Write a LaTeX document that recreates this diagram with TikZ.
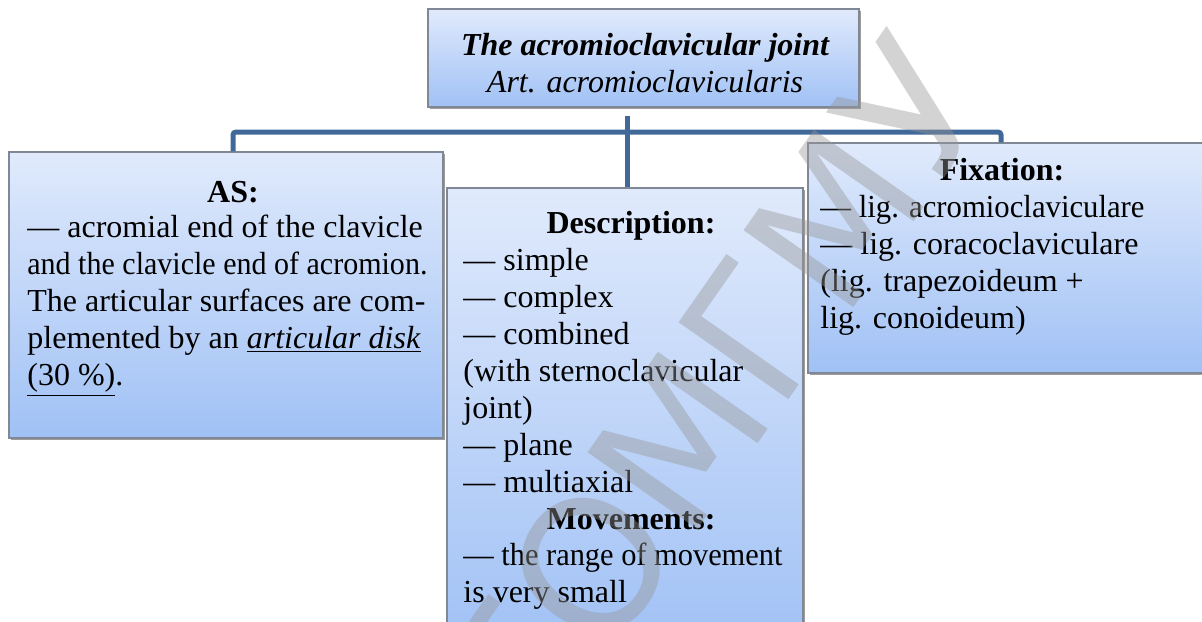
\documentclass[tikz,border=0pt]{standalone}
\usepackage{fontspec}
\usepackage{graphicx}
\setmainfont{Liberation Serif}
\newfontfamily\wmfont{DejaVu Sans}
\usetikzlibrary{shadows,fit,calc}
\definecolor{connblue}{RGB}{64,104,152}
\definecolor{boxtop}{RGB}{224,234,252}
\definecolor{boxbot}{RGB}{160,193,245}
\definecolor{boxline}{RGB}{128,136,150}
\definecolor{wmgray}{RGB}{150,150,150}
\begin{document}
\begin{tikzpicture}[x=0.5pt,y=-0.5pt,
  card/.style={draw=boxline, line width=0.6pt, top color=boxtop, bottom color=boxbot,
    inner sep=0pt,
    drop shadow={shadow xshift=1.2pt, shadow yshift=-1.2pt, fill=black!70, opacity=0.55}},
  conn/.style={draw=connblue, line width=2.5pt},
  body/.style={anchor=north west, inner sep=0pt, align=left,
    font=\fontsize{16}{18.5}\selectfont},
  head/.style={anchor=base, inner sep=0pt, font=\fontsize{16}{18.5}\selectfont\bfseries},
]
\useasboundingbox (0,0) rectangle (1202,621);
\clip (0,0) rectangle (1202,621);

% connector hub on the horizontal bar
\coordinate (hub) at (627,132);
\coordinate (lft) at (233,132);
\coordinate (rgt) at (1001,132);

% boxes
\node[card, fit={(428,9) (859,107)}] (top) {};
\node[card, fit={(9,152) (443,438)}] (as) {};
\node[card, fit={(447,188) (803,650)}] (desc) {};
\node[card, fit={(808,143) (1220,373)}] (fix) {};

% connectors
\draw[conn, shorten <=4pt] (top.south -| hub) -- (desc.north -| hub);
\draw[conn, rounded corners=1.5pt] (as.north -| lft) -- (lft) -- (rgt) -- (fix.north -| rgt);

% title
\node[anchor=base, inner sep=0pt, font=\fontsize{16}{18.5}\selectfont\bfseries\itshape]
  (t1) at (645,55) {The acromioclavicular joint};
\node[anchor=base, inner sep=0pt, font=\fontsize{16}{18.5}\selectfont\itshape]
  (t2) at (645,92) {Art. acromioclavicularis};

% articular surfaces
\node[head] (ash) at (233,202) {AS:};
\node[body] (asb) at (27,213) {\rule{0pt}{12pt}— acromial end of the clavicle\\
  \scalebox{0.938}[1]{and the clavicle end of acromion.}\\
  The articular surfaces are com-\\
  plemented by an \underline{\textit{articular disk}}\\
  \underline{(30 \%)}.};

% description and movements
\node[head] (dsh) at (631,233) {Description:};
\node[body] (dsb) at (463,246) {\rule{0pt}{12pt}— simple\\
  — complex\\
  — combined\\
  (with sternoclavicular\\
  joint)\\
  — plane\\
  — multiaxial};
\node[head] (mvh) at (631,529) {Movements:};
\node[body] (mvb) at (463,541) {\rule{0pt}{12pt}\scalebox{0.95}[1]{— the range of movement}\\
  is very small};

% fixation
\node[head] (fxh) at (1002,180) {Fixation:};
\node[body] (fxb) at (820,193) {\rule{0pt}{12pt}\scalebox{0.96}[1]{— lig. acromioclaviculare}\\
  — lig. coracoclaviculare\\
  (lig. trapezoideum +\\
  lig. conoideum)};

% watermark
\node[font=\wmfont\fontsize{92}{92}\selectfont, text=wmgray, opacity=0.42,
  rotate=55, inner sep=0pt, anchor=base west] (wm) at (540,755) {ГОМГМУ};
\end{tikzpicture}
\end{document}
